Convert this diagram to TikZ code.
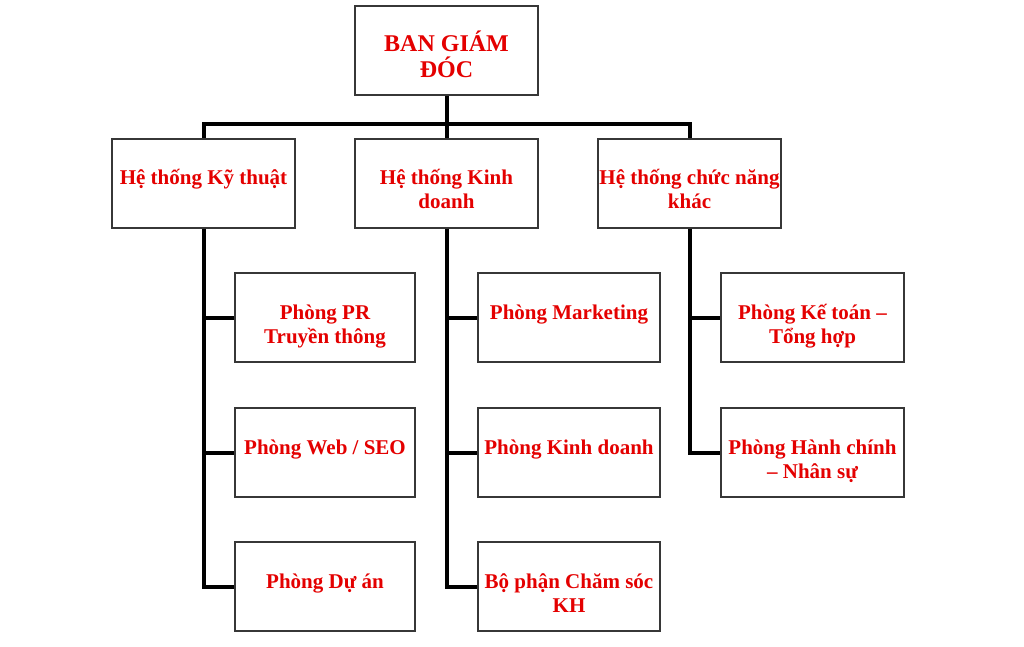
\documentclass[tikz,border=0pt]{standalone}
\usepackage{fontspec}
\setmainfont{Liberation Serif}
\definecolor{txtred}{RGB}{228,0,0}
\definecolor{boxgray}{RGB}{55,55,55}
\begin{document}
\begin{tikzpicture}[x=1pt,y=-1pt,
  box/.style={draw=boxgray, line width=1.4pt, fill=white, inner sep=0pt, minimum height=89pt},
  lbl/.style={text=txtred, inner sep=0pt, align=center, font=\bfseries\fontsize{21}{24}\selectfont},
  toplbl/.style={text=txtred, inner sep=0pt, align=center, font=\bfseries\fontsize{24}{26}\selectfont},
  conn/.style={line width=4pt, black, line join=miter}]
\fill[white] (0,0) rectangle (1024,647);
\useasboundingbox (0,0) rectangle (1024,647);

% connectors (drawn first, boxes on top)
\coordinate (topS) at (446.5,95);
\coordinate (kN) at (203.5,139);
\coordinate (khN) at (689.5,139);
\coordinate (busL) at (203.5,124);
\coordinate (busR) at (689.5,124);
\coordinate (kdN) at (446.5,139);
\draw[conn] (kN) -- (busL) -- (busR) -- (khN);
\draw[conn] (topS) -- (kdN);

% boxes
\node[box, minimum width=183pt] (top) at (446.5,50.5) {};
\node[box, minimum width=183pt] (k) at (203.5,183.5) {};
\node[box, minimum width=183pt] (kd) at (446.5,183.5) {};
\node[box, minimum width=183pt] (kh) at (689.5,183.5) {};

\node[box, minimum width=180pt] (pr) at (325,317.5) {};
\node[box, minimum width=180pt] (web) at (325,452.5) {};
\node[box, minimum width=180pt] (da) at (325,586.5) {};

\node[box, minimum width=182pt] (mk) at (569,317.5) {};
\node[box, minimum width=182pt] (kdp) at (569,452.5) {};
\node[box, minimum width=182pt] (cs) at (569,586.5) {};

\node[box, minimum width=183pt] (kt) at (812.5,317.5) {};
\node[box, minimum width=183pt] (hc) at (812.5,452.5) {};

% column connectors
\draw[conn] (k.south) -- (k.south |- da.west) -- (da.west);
\draw[conn] (k.south |- pr.west) -- (pr.west);
\draw[conn] (k.south |- web.west) -- (web.west);

\draw[conn] (kd.south) -- (kd.south |- cs.west) -- (cs.west);
\draw[conn] (kd.south |- mk.west) -- (mk.west);
\draw[conn] (kd.south |- kdp.west) -- (kdp.west);

\draw[conn] (kh.south) -- (kh.south |- hc.west) -- (hc.west);
\draw[conn] (kh.south |- kt.west) -- (kt.west);

% labels
\node[toplbl] (ttop) at ([yshift=-4pt]top.center) {BAN GIÁM\\ĐÓC};
\node[lbl] (tk) at ([yshift=-8pt]k.center) {\strut Hệ thống Kỹ thuật\\\strut};
\node[lbl] (tkd) at ([yshift=-8pt]kd.center) {\strut Hệ thống Kinh\\\strut doanh};
\node[lbl] (tkh) at ([yshift=-8pt]kh.center) {\strut Hệ thống chức năng\\\strut khác};

\node[lbl] (tpr) at ([yshift=-9pt]pr.center) {\strut Phòng PR\\\strut Truyền thông};
\node[lbl] (tweb) at ([yshift=-9pt]web.center) {\strut Phòng Web / SEO\\\strut};
\node[lbl] (tda) at ([yshift=-9pt]da.center) {\strut Phòng Dự án\\\strut};

\node[lbl] (tmk) at ([yshift=-9pt]mk.center) {\strut Phòng Marketing\\\strut};
\node[lbl] (tkdp) at ([yshift=-9pt]kdp.center) {\strut Phòng Kinh doanh\\\strut};
\node[lbl] (tcs) at ([yshift=-9pt]cs.center) {\strut Bộ phận Chăm sóc\\\strut KH};

\node[lbl] (tkt) at ([yshift=-9pt]kt.center) {\strut Phòng Kế toán –\\\strut Tổng hợp};
\node[lbl] (thc) at ([yshift=-9pt]hc.center) {\strut Phòng Hành chính\\\strut – Nhân sự};
\end{tikzpicture}
\end{document}
